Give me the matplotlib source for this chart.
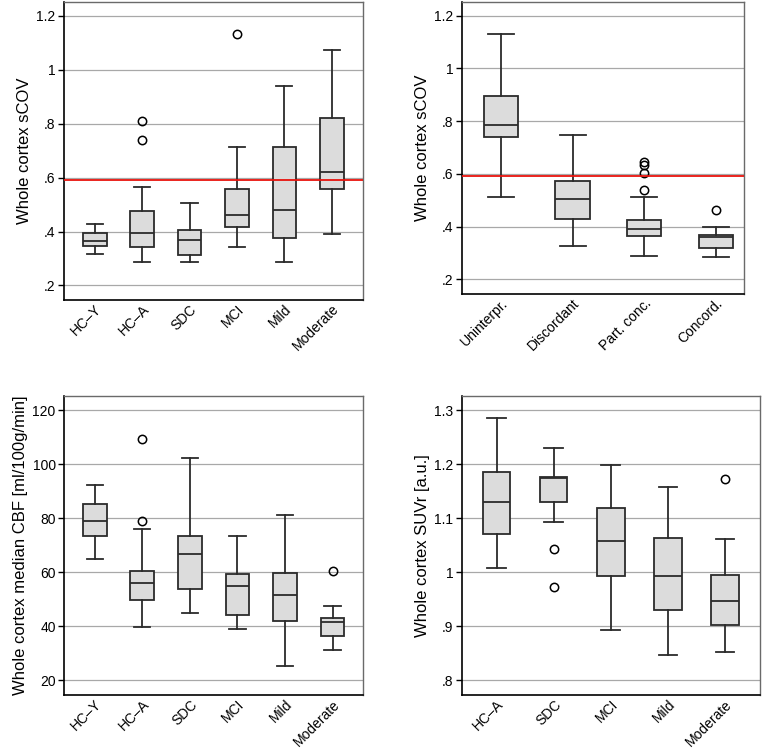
import numpy as np
import matplotlib.pyplot as plt
import matplotlib.transforms as mtransforms
from matplotlib.ticker import FuncFormatter

plt.rcParams['font.family'] = ['Liberation Sans', 'DejaVu Sans']
plt.rcParams['font.size'] = 10

# ---- panel A: sCOV by diagnosis ----
groups_a = ['HC\u2013Y', 'HC\u2013A', 'SDC', 'MCI', 'Mild', 'Moderate']
a_whislo = [0.316, 0.286, 0.286, 0.344, 0.288, 0.389]
a_q1 = [0.348, 0.343, 0.314, 0.416, 0.375, 0.556]
a_med = [0.366, 0.393, 0.368, 0.462, 0.481, 0.620]
a_q3 = [0.396, 0.475, 0.406, 0.557, 0.712, 0.821]
a_whishi = [0.428, 0.565, 0.506, 0.712, 0.940, 1.072]
a_fliers = [[], [0.809, 0.741], [], [1.132], [], []]

# ---- panel B: sCOV by visual read ----
groups_b = ['Uninterpr.', 'Discordant', 'Part. conc.', 'Concord.']
b_whislo = [0.512, 0.328, 0.287, 0.285]
b_q1 = [0.739, 0.427, 0.364, 0.317]
b_med = [0.785, 0.503, 0.389, 0.359]
b_q3 = [0.894, 0.574, 0.425, 0.368]
b_whishi = [1.132, 0.747, 0.514, 0.400]
b_fliers = [[], [], [0.645, 0.632, 0.604, 0.537], [0.461]]

# ---- panel C: CBF ----
groups_c = ['HC\u2013Y', 'HC\u2013A', 'SDC', 'MCI', 'Mild', 'Moderate']
c_whislo = [64.9, 39.8, 44.8, 38.9, 25.2, 31.2]
c_q1 = [73.3, 49.6, 53.7, 44.4, 42.0, 36.5]
c_med = [79.0, 56.0, 66.9, 54.9, 51.5, 41.5]
c_q3 = [85.2, 60.7, 73.3, 59.3, 59.6, 43.2]
c_whishi = [92.3, 76.2, 102.2, 73.6, 81.4, 47.7]
c_fliers = [[], [109.4, 79.0], [], [], [], [60.5]]

# ---- panel D: SUVr ----
groups_d = ['HC\u2013A', 'SDC', 'MCI', 'Mild', 'Moderate']
d_whislo = [1.009, 1.094, 0.893, 0.848, 0.852]
d_q1 = [1.071, 1.131, 0.993, 0.931, 0.902]
d_med = [1.131, 1.175, 1.058, 0.993, 0.947]
d_q3 = [1.185, 1.177, 1.119, 1.064, 0.996]
d_whishi = [1.285, 1.230, 1.199, 1.159, 1.061]
d_fliers = [[], [1.043, 0.973], [], [], [1.173]]

cutoff = 0.59

edge = '#2b2b2b'


def stata_fmt(v, pos):
    s = ('%g' % round(v, 6))
    if s.startswith('0.'):
        s = s[1:]
    return s


def boxpanel(ax, labels, lo, q1, med, q3, hi, fl, xlim, ylim, ticks, ylabel, bw, capw):
    stats = []
    for i in range(len(labels)):
        stats.append(dict(whislo=lo[i], q1=q1[i], med=med[i], q3=q3[i],
                          whishi=hi[i], fliers=fl[i], label=labels[i]))
    ax.yaxis.grid(True, color='#a8a8a8', lw=0.9)
    ax.set_axisbelow(True)
    ax.bxp(stats, positions=np.arange(1, len(labels) + 1), widths=bw,
           patch_artist=True, showfliers=True, manage_ticks=False,
           boxprops=dict(facecolor='#dcdcdc', edgecolor=edge, lw=1.3),
           medianprops=dict(color=edge, lw=1.3),
           whiskerprops=dict(color=edge, lw=1.3),
           capprops=dict(color=edge, lw=1.3), capwidths=capw,
           flierprops=dict(marker='o', markerfacecolor='none',
                           markeredgecolor='black', markersize=6, mew=1.1))
    ax.set_xlim(*xlim)
    ax.set_ylim(*ylim)
    ax.set_yticks(ticks)
    ax.yaxis.set_major_formatter(FuncFormatter(stata_fmt))
    ax.set_xticks(np.arange(1, len(labels) + 1))
    ax.set_xticklabels(labels, rotation=45, ha='right', rotation_mode='anchor')
    shift = mtransforms.ScaledTranslation(4 / 72, 0, ax.figure.dpi_scale_trans)
    for t in ax.get_xticklabels():
        t.set_transform(t.get_transform() + shift)
    ax.tick_params(axis='x', length=0, pad=1.5, labelsize=10)
    ax.tick_params(axis='y', length=4, width=1, labelsize=10, pad=2)
    ax.set_ylabel(ylabel, fontsize=12, labelpad=3)
    for side in ['top', 'right']:
        ax.spines[side].set_color('#6a6a6a')
        ax.spines[side].set_linewidth(1.0)
    for side in ['left', 'bottom']:
        ax.spines[side].set_color('black')
        ax.spines[side].set_linewidth(1.2)


fig = plt.figure(figsize=(7.62, 7.5), dpi=100)
ax1 = fig.add_axes([0.084, 0.600, 0.392, 0.398])
ax2 = fig.add_axes([0.606, 0.608, 0.371, 0.390])
ax3 = fig.add_axes([0.084, 0.0733, 0.393, 0.399])
ax4 = fig.add_axes([0.606, 0.0733, 0.392, 0.399])

boxpanel(ax1, groups_a, a_whislo, a_q1, a_med, a_q3, a_whishi, a_fliers,
         (0.354, 6.65), (0.146, 1.253), [0.2, 0.4, 0.6, 0.8, 1.0, 1.2],
         'Whole cortex sCOV', 0.5, 0.34)
ax1.axhline(cutoff, color='#e8120c', lw=1.3, zorder=3)

boxpanel(ax2, groups_b, b_whislo, b_q1, b_med, b_q3, b_whishi, b_fliers,
         (0.451, 4.4), (0.144, 1.254), [0.2, 0.4, 0.6, 0.8, 1.0, 1.2],
         'Whole cortex sCOV', 0.48, 0.36)
ax2.axhline(cutoff, color='#e8120c', lw=1.3, zorder=3)

boxpanel(ax3, groups_c, c_whislo, c_q1, c_med, c_q3, c_whishi, c_fliers,
         (0.354, 6.65), (14.6, 125.4), [20, 40, 60, 80, 100, 120],
         'Whole cortex median CBF [ml/100g/min]', 0.5, 0.34)

boxpanel(ax4, groups_d, d_whislo, d_q1, d_med, d_q3, d_whishi, d_fliers,
         (0.389, 5.62), (0.773, 1.327), [0.8, 0.9, 1.0, 1.1, 1.2, 1.3],
         'Whole cortex SUVr [a.u.]', 0.48, 0.33)

fig.savefig('out.png', dpi=100)
